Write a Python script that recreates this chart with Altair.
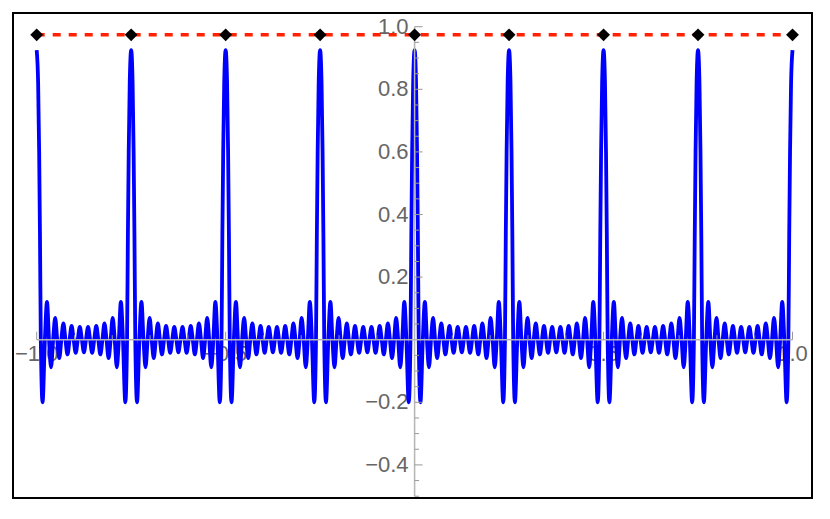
import altair as alt
import pandas as pd

# ---- values ----
# one half-period of the blue curve: offset from a peak (x) and value (y)
half_offsets = [0.0, 0.0038, 0.0065, 0.0087, 0.0109, 0.0155, 0.0217, 0.0272,
                0.0326, 0.0380, 0.0435, 0.0489, 0.0543, 0.0598, 0.0652, 0.0707,
                0.0761, 0.0815, 0.0870, 0.0924, 0.0978, 0.1033, 0.1087, 0.1141,
                0.1196, 0.1250]
half_values = [0.925, 0.82, 0.60, 0.33, 0.0, -0.200, 0.0, 0.121,
               0.0, -0.088, 0.0, 0.070, 0.0, -0.059, 0.0, 0.052,
               0.0, -0.047, 0.0, 0.044, 0.0, -0.042, 0.0, 0.041,
               0.0, -0.040]
peak_x = [-1.0, -0.75, -0.5, -0.25, 0.0, 0.25, 0.5, 0.75, 1.0]
period = 0.25
red_level = 0.974

x_labels = [-1.0, -0.5, 0.5, 1.0]
x_minor = [-0.9, -0.8, -0.7, -0.6, -0.4, -0.3, -0.2, -0.1,
           0.1, 0.2, 0.3, 0.4, 0.6, 0.7, 0.8, 0.9]
y_labels = [-0.4, -0.2, 0.2, 0.4, 0.6, 0.8, 1.0]
y_minor = [-0.5, -0.45, -0.35, -0.3, -0.25, -0.15, -0.1, -0.05, 0.05, 0.1,
           0.15, 0.25, 0.3, 0.35, 0.45, 0.5, 0.55, 0.65, 0.7, 0.75, 0.85,
           0.9, 0.95]

x_domain = [-1.0627, 1.0516]
y_domain = [-0.5057, 1.0438]
W, H = 799, 485

# ---- build the curve table from the half-period profile ----
prof_o = list(half_offsets) + [period - o for o in reversed(half_offsets[1:-1])]
prof_v = list(half_values) + list(reversed(half_values[1:-1]))
rows = []
for p in peak_x[:-1]:
    for o, v in zip(prof_o, prof_v):
        rows.append({"x": p + o, "y": v})
rows.append({"x": peak_x[-1], "y": half_values[0]})
curve_df = pd.DataFrame(rows)

xs = alt.Scale(domain=x_domain, nice=False, zero=False)
ys = alt.Scale(domain=y_domain, nice=False, zero=False)

label_font = "Liberation Sans"
label_size = 22
label_color = "#666666"


def fmt(v):
    return f"{v:.1f}".replace("-", "\u2212")


ylab_df = pd.DataFrame({"v": y_labels, "x0": 0.0, "t": [fmt(v) for v in y_labels]})
ylab = alt.Chart(ylab_df).mark_text(
    align="right", baseline="middle", dx=-6, font=label_font,
    fontSize=label_size, color=label_color
).encode(
    x=alt.X("x0:Q", scale=xs, axis=None),
    y=alt.Y("v:Q", scale=ys, axis=None),
    text="t:N",
)

xlab_df = pd.DataFrame({"v": x_labels, "y0": 0.0, "t": [fmt(v) for v in x_labels]})
xlab = alt.Chart(xlab_df).mark_text(
    align="center", baseline="top", dy=4, font=label_font,
    fontSize=label_size, color=label_color
).encode(
    x=alt.X("v:Q", scale=xs, axis=None),
    y=alt.Y("y0:Q", scale=ys, axis=None),
    text="t:N",
)

curve = alt.Chart(curve_df).mark_line(
    color="#0000ff", strokeWidth=3.8, interpolate="monotone", strokeJoin="round"
).encode(
    x=alt.X("x:Q", scale=xs, axis=None),
    y=alt.Y("y:Q", scale=ys, axis=None),
)

axis_df = pd.DataFrame({"x": [-1.0, 0.0], "x2": [1.0, 0.0],
                        "y": [0.0, -0.5], "y2": [0.0, 1.0]})
axis_lines = alt.Chart(axis_df).mark_rule(color="#b5b5b5", strokeWidth=1.5).encode(
    x=alt.X("x:Q", scale=xs, axis=None), x2="x2:Q",
    y=alt.Y("y:Q", scale=ys, axis=None), y2="y2:Q",
)


def ytick(vals, length):
    df = pd.DataFrame({"v": vals, "x0": 0.0})
    return alt.Chart(df).mark_rule(color="#999999", strokeWidth=1, x2Offset=length).encode(
        x=alt.X("x0:Q", scale=xs, axis=None), x2="x0:Q",
        y=alt.Y("v:Q", scale=ys, axis=None),
    )


def xtick(vals, length):
    df = pd.DataFrame({"v": vals, "y0": 0.0})
    return alt.Chart(df).mark_rule(color="#999999", strokeWidth=1, y2Offset=-length).encode(
        x=alt.X("v:Q", scale=xs, axis=None),
        y=alt.Y("y0:Q", scale=ys, axis=None), y2="y0:Q",
    )


red_df = pd.DataFrame({"x": [peak_x[0]], "x2": [peak_x[-1]], "y": [red_level]})
red = alt.Chart(red_df).mark_rule(color="#ff2200", strokeWidth=3.5, strokeDash=[8, 8]).encode(
    x=alt.X("x:Q", scale=xs, axis=None), x2="x2:Q",
    y=alt.Y("y:Q", scale=ys, axis=None),
)

diamond_df = pd.DataFrame({"x": peak_x, "y": [red_level] * len(peak_x)})
diamonds = alt.Chart(diamond_df).mark_point(
    shape="diamond", filled=True, size=165, color="black", opacity=1
).encode(
    x=alt.X("x:Q", scale=xs, axis=None),
    y=alt.Y("y:Q", scale=ys, axis=None),
)

chart = alt.layer(
    ylab, xlab, curve, axis_lines,
    ytick(y_labels, 8), ytick(y_minor, 4.5),
    xtick(x_labels, 8), xtick(x_minor, 4.5),
    red, diamonds,
).properties(
    width=W, height=H, autosize="none", background="white",
    padding={"left": 5, "top": 5, "right": 5, "bottom": 5},
).configure_view(stroke="black", strokeWidth=2)

chart.save("out.html", embed_options={"renderer": "svg", "actions": False})
